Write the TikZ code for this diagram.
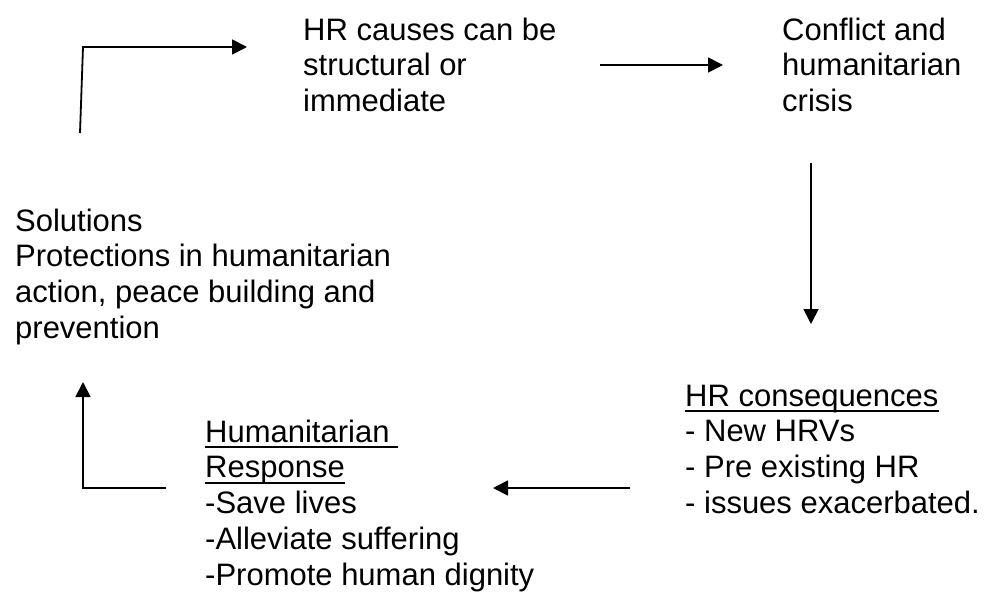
\documentclass[tikz,border=0pt]{standalone}
\usepackage{fontspec}
\setmainfont{Liberation Sans}
\usetikzlibrary{arrows.meta}

% underline at a fixed distance below the baseline
\newcommand{\fixedul}[1]{\setbox0\hbox{#1}\rlap{\rule[-6pt]{\wd0}{2.2pt}}\box0}
% fixed first-line height so that north west anchors are predictable
\newcommand{\firstline}{\rule{0pt}{25pt}}

\begin{document}
\begin{tikzpicture}[x=1pt, y=-1pt,
  blocktext/.style={inner sep=0pt, anchor=north west, align=left,
    font=\fontsize{31}{35.7}\selectfont},
  flow/.style={line width=1.8pt, line join=miter,
    -{Triangle[length=15pt,width=15pt]}},
  plain/.style={line width=1.8pt, line join=miter}]

\useasboundingbox (0,0) rectangle (993,594);

% text blocks (y = baseline of first line - 25)
\node[blocktext] (causes) at (303,15)
  {\firstline HR causes can be\\structural or\\immediate};
\node[blocktext] (conflict) at (782,15)
  {\firstline Conflict and\\humanitarian\\crisis};
\node[blocktext] (solutions) at (15,206)
  {\firstline Solutions\\Protections in humanitarian\\action, peace building and\\prevention};
\node[blocktext] (consequences) at (685,381)
  {\firstline\fixedul{HR consequences}\\- New HRVs\\- Pre existing HR\\- issues exacerbated.};
\node[blocktext] (response) at (205,417)
  {\firstline\fixedul{Humanitarian\ }\\\fixedul{Response}\\-Save lives\\-Alleviate suffering\\-Promote human dignity};

% connector end points
\coordinate (a1s) at (80,133);
\coordinate (a1k) at (83,47);
\coordinate (a1e) at (247,47);
\coordinate (a2s) at (600,65);
\coordinate (a2e) at (723,65);
\coordinate (a3s) at (811,163);
\coordinate (a3e) at (811,324);
\coordinate (a4s) at (630,488);
\coordinate (a4e) at (493,488);
\coordinate (a5s) at (166,488);
\coordinate (a5k) at (83,488);
\coordinate (a5e) at (83,382);

% cycle of arrows
\draw[flow] (a1s) -- (a1k) -- (a1e);
\draw[flow] (a2s) -- (a2e);
\draw[flow] (a3s) -- (a3e);
\draw[flow] (a4s) -- (a4e);
\draw[flow] (a5s) -- (a5k) -- (a5e);

\end{tikzpicture}
\end{document}
